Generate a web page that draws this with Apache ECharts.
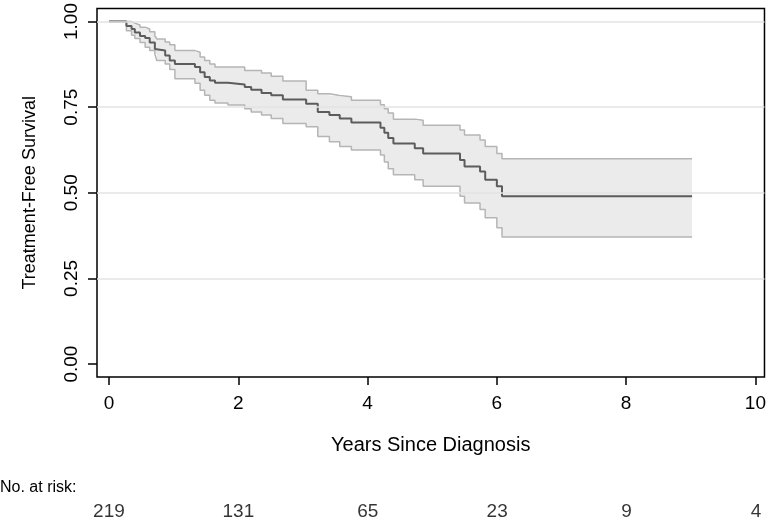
<!DOCTYPE html>
<html>
<head>
<meta charset="utf-8">
<script src="https://cdn.jsdelivr.net/npm/echarts@6/dist/echarts.min.js"></script>
<style>
html,body{margin:0;padding:0;background:#fff;}
#chart{width:769px;height:523px;}
</style>
</head>
<body>
<div id="chart"></div>
<script>
// ---- data ----
const times    = [0, 0.27, 0.35, 0.40, 0.48, 0.56, 0.63, 0.71, 0.74, 0.87, 0.94, 1.02, 1.33, 1.41, 1.48, 1.56, 1.64, 1.84, 2.10, 2.20, 2.36, 2.51, 2.69, 3.05, 3.23, 3.41, 3.57, 3.75, 4.20, 4.26, 4.32, 4.40, 4.73, 4.86, 5.43, 5.50, 5.74, 5.82, 6.00, 6.08, 9.02];
const survival = [1, 0.987, 0.978, 0.968, 0.958, 0.952, 0.939, 0.920, 0.915, 0.901, 0.886, 0.876, 0.867, 0.852, 0.838, 0.828, 0.821, 0.816, 0.809, 0.801, 0.791, 0.785, 0.772, 0.760, 0.736, 0.727, 0.717, 0.705, 0.690, 0.675, 0.660, 0.644, 0.630, 0.615, 0.596, 0.577, 0.562, 0.538, 0.519, 0.490, 0.490];
const upperCI  = [1, 1.000, 0.995, 0.990, 0.983, 0.978, 0.970, 0.958, 0.949, 0.940, 0.932, 0.915, 0.910, 0.896, 0.886, 0.876, 0.867, 0.867, 0.857, 0.857, 0.850, 0.840, 0.826, 0.799, 0.789, 0.784, 0.780, 0.770, 0.757, 0.745, 0.733, 0.715, 0.712, 0.697, 0.683, 0.669, 0.654, 0.635, 0.615, 0.599, 0.599];
const lowerCI  = [1, 0.973, 0.960, 0.950, 0.939, 0.925, 0.915, 0.905, 0.886, 0.876, 0.860, 0.833, 0.820, 0.799, 0.785, 0.770, 0.762, 0.756, 0.745, 0.736, 0.727, 0.717, 0.702, 0.693, 0.664, 0.649, 0.635, 0.625, 0.610, 0.590, 0.570, 0.553, 0.538, 0.519, 0.490, 0.470, 0.451, 0.427, 0.398, 0.371, 0.371];
const xTicks   = [0, 2, 4, 6, 8, 10];
const yTicks   = [0, 0.25, 0.5, 0.75, 1];
const yGrid    = [0.25, 0.5, 0.75, 1];
const riskTimes = [0, 2, 4, 6, 8, 10];
const atRisk    = [219, 131, 65, 23, 9, 4];

const FONT = "'Liberation Sans', Arial, Helvetica, sans-serif";
const X_MIN = -0.185, X_MAX = 10.14;
const Y_MIN = -0.0377, Y_MAX = 1.0377;

const chart = echarts.init(document.getElementById('chart'), null, {renderer: 'canvas'});

function bandRender(params, api) {
  if (params.dataIndex !== 0) return null;
  const n = times.length;
  const top = [], bot = [];
  for (let i = 0; i < n; i++) {
    const tNext = i < n - 1 ? times[i + 1] : times[i];
    top.push(api.coord([times[i], upperCI[i]]));
    top.push(api.coord([tNext, upperCI[i]]));
    bot.push(api.coord([times[i], lowerCI[i]]));
    bot.push(api.coord([tNext, lowerCI[i]]));
  }
  const pts = top.concat(bot.reverse());
  return {type: 'polygon', shape: {points: pts}, style: {fill: '#ebebeb', stroke: null}};
}

const option = {
  animation: false,
  backgroundColor: '#fff',
  textStyle: {fontFamily: FONT},
  grid: [
    {left: 97, right: 4, top: 6, bottom: 146, containLabel: false, show: true,
     borderColor: '#000', borderWidth: 1.5, backgroundColor: 'transparent'},
    {left: 97, right: 4, top: 500, height: 24, containLabel: false, show: false}
  ],
  xAxis: [
    {type: 'value', gridIndex: 0, min: X_MIN, max: X_MAX, position: 'bottom',
     axisLine: {show: false, onZero: false},
     splitLine: {show: false},
     axisTick: {show: true, inside: false, length: 8, customValues: xTicks, lineStyle: {color: '#000', width: 1.5}},
     axisLabel: {show: true, customValues: xTicks, margin: 17, color: '#000', fontSize: 19, fontFamily: FONT},
     name: 'Years Since Diagnosis', nameLocation: 'middle', nameGap: 58,
     nameTextStyle: {color: '#000', fontSize: 20, fontFamily: FONT}},
    {type: 'value', gridIndex: 1, min: X_MIN, max: X_MAX, show: false}
  ],
  yAxis: [
    {type: 'value', gridIndex: 0, min: Y_MIN, max: Y_MAX, position: 'left',
     axisLine: {show: false, onZero: false},
     splitLine: {show: false},
     axisTick: {show: true, inside: false, length: 9, customValues: yTicks, lineStyle: {color: '#000', width: 1.5}},
     axisLabel: {show: true, customValues: yTicks, rotate: 90, margin: 16, color: '#000', fontSize: 19, fontFamily: FONT,
                 formatter: v => v.toFixed(2)},
     name: 'Treatment-Free Survival', nameLocation: 'middle', nameGap: 58, nameRotate: 90,
     nameTextStyle: {color: '#000', fontSize: 18, fontFamily: FONT}},
    {type: 'value', gridIndex: 1, min: 0, max: 1, show: false}
  ],
  series: [
    {name: 'grid', type: 'line', xAxisIndex: 0, yAxisIndex: 0, data: [[X_MIN, Y_MIN]], showSymbol: false, symbol: 'none',
     lineStyle: {width: 0}, z: 1, silent: true,
     markLine: {silent: true, symbol: ['none', 'none'], label: {show: false},
                lineStyle: {color: '#e3e3e3', width: 1.5, type: 'solid'},
                data: yGrid.map(v => ({yAxis: v}))}},
    {name: 'band', type: 'custom', xAxisIndex: 0, yAxisIndex: 0, z: 2, silent: true,
     renderItem: bandRender,
     encode: {x: 0, y: [1, 2]},
     data: times.map((t, i) => [t, lowerCI[i], upperCI[i]])},
    {name: 'lower', type: 'line', step: 'end', xAxisIndex: 0, yAxisIndex: 0,
     showSymbol: false, symbol: 'none', z: 3,
     lineStyle: {color: '#b5b5b5', width: 1.5},
     data: times.map((t, i) => [t, lowerCI[i]])},
    {name: 'upper', type: 'line', step: 'end', xAxisIndex: 0, yAxisIndex: 0,
     showSymbol: false, symbol: 'none', z: 3,
     lineStyle: {color: '#b5b5b5', width: 1.5},
     data: times.map((t, i) => [t, upperCI[i]])},
    {name: 'survival', type: 'line', step: 'end', xAxisIndex: 0, yAxisIndex: 0,
     showSymbol: false, symbol: 'none', z: 4,
     lineStyle: {color: '#5c5c5c', width: 2},
     data: times.map((t, i) => [t, survival[i]])},
    {name: 'risk', type: 'scatter', xAxisIndex: 1, yAxisIndex: 1, symbolSize: 0, silent: true,
     label: {show: true, position: 'inside', color: '#000', fontSize: 19, fontFamily: FONT,
             formatter: p => String(p.value[2])},
     data: riskTimes.map((t, i) => [t, 0.5, atRisk[i]])}
  ],
  graphic: [
    {type: 'text', left: 0, top: 480,
     style: {text: 'No. at risk:', fill: '#000', font: '16px ' + FONT}}
  ]
};
chart.setOption(option);
</script>
</body>
</html>
